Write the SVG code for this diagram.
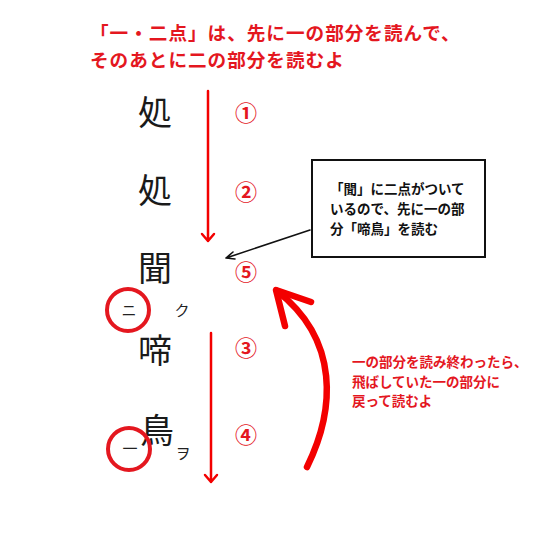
<svg xmlns="http://www.w3.org/2000/svg" width="540" height="540" viewBox="0 0 540 540">
<defs>
<style>
.t{font-family:"Noto Sans CJK JP","Noto Sans",sans-serif}
.title{font-size:18.6px;letter-spacing:1px;font-weight:bold;fill:#e4171f}
.kanji{font-size:34px;fill:#1a1a1a}
.kana{font-size:15px;fill:#222}
.num{font-size:22px;font-weight:bold;fill:#e4171f;text-anchor:middle}
.note{font-size:13.5px;font-weight:bold;fill:#111}
.rnote{font-size:13.5px;font-weight:bold;fill:#e4171f}
.ring{fill:none;stroke:#e4171f;stroke-width:4}
.rarrow{fill:none;stroke:#f30000;stroke-width:2.5;stroke-linecap:round;stroke-linejoin:round}
</style>
</defs>
<rect width="540" height="540" fill="#fff"/>
<g id="title">
<text class="t title" x="90" y="40">「一・二点」は、先に一の部分を読んで、</text>
<text class="t title" x="90" y="67">そのあとに二の部分を読むよ</text>
</g>
<g id="kanji1"><text class="t kanji" x="155" y="125" text-anchor="middle">処</text></g>
<g id="kanji2"><text class="t kanji" x="155" y="203" text-anchor="middle">処</text></g>
<g id="kanji3"><text class="t kanji" x="155" y="281" text-anchor="middle">聞</text></g>
<g id="kanji4"><text class="t kanji" x="155" y="363" text-anchor="middle">啼</text></g>
<g id="kanji5"><text class="t kanji" x="157" y="443" text-anchor="middle">鳥</text></g>
<g id="mark-ni">
<circle class="ring" cx="128" cy="310" r="21"/>
<text class="t kana" x="129" y="316" text-anchor="middle">ニ</text>
</g>
<g id="kana-ku"><text class="t kana" x="182" y="316" text-anchor="middle">ク</text></g>
<g id="mark-ichi">
<circle class="ring" cx="129" cy="449" r="21"/>
<text class="t kana" x="130" y="454" text-anchor="middle">一</text>
</g>
<g id="kana-wo"><text class="t kana" x="183" y="459" text-anchor="middle">ヲ</text></g>
<g id="numbers">
<text class="t num" x="246" y="121">①</text>
<text class="t num" x="246" y="200">②</text>
<text class="t num" x="246" y="280">⑤</text>
<text class="t num" x="246" y="356">③</text>
<text class="t num" x="246" y="443">④</text>
</g>
<g id="note-box">
<rect x="312" y="160" width="173" height="97" fill="#fff" stroke="#111" stroke-width="2"/>
<text class="t note" x="330" y="194">「聞」に二点がついて</text>
<text class="t note" x="330" y="214">いるので、先に一の部</text>
<text class="t note" x="330" y="234">分「啼鳥」を読む</text>
</g>
<g id="red-note">
<text class="t rnote" x="352" y="367">一の部分を読み終わったら、</text>
<text class="t rnote" x="352" y="387">飛ばしていた一の部分に</text>
<text class="t rnote" x="352" y="406">戻って読むよ</text>
</g>
<g id="connectors">
<path class="rarrow" d="M208,91 V241 M202,234 L208,241 L214,234"/>
<path class="rarrow" d="M211,333 V482 M205,475 L211,482 L217,475"/>
<path d="M310,230 L226,258 M233,252 L226,258 L235,259" fill="none" stroke="#111" stroke-width="1.6" stroke-linecap="round" stroke-linejoin="round"/>
<path d="M307,467 C335,410 340,340 277,291" fill="none" stroke="#f30000" stroke-width="6.5" stroke-linecap="round"/>
<path d="M311,302 L276,290 L285,326" fill="none" stroke="#f30000" stroke-width="6.5" stroke-linecap="round" stroke-linejoin="round"/>
</g>
</svg>
